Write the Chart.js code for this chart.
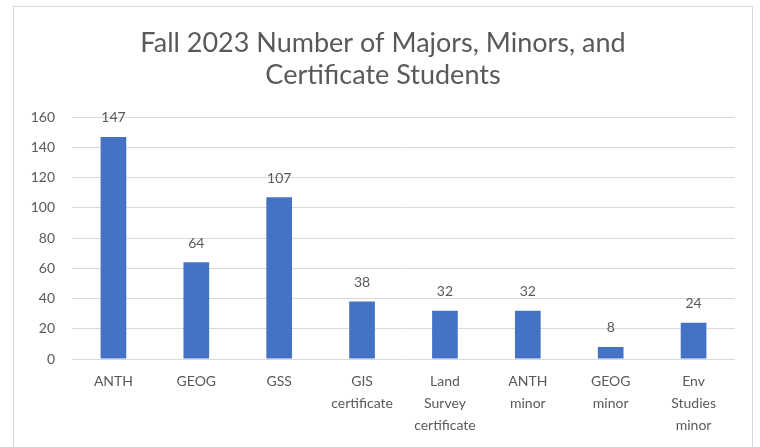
<!DOCTYPE html>
<html>
<head>
<meta charset="utf-8">
<script src="https://cdn.jsdelivr.net/npm/chart.js@4"></script>
<style>
  html, body { margin: 0; padding: 0; background: #ffffff; }
  #wrap { position: absolute; left: 0; top: 0; width: 760px; height: 447px; }
  #frame { position: absolute; left: 13px; top: 6px; width: 740px; height: 460px; border: 1px solid #d9d9d9; box-sizing: border-box; }
  canvas { position: absolute; left: 0; top: 0; }
</style>
</head>
<body>
<div id="wrap">
  <div id="frame"></div>
  <canvas id="c" width="760" height="447"></canvas>
</div>
<script>
const titleLines = ["Fall 2023 Number of Majors, Minors, and", "Certificate Students"];
const categories = [
  ["ANTH"], ["GEOG"], ["GSS"], ["GIS", "certificate"], ["Land", "Survey", "certificate"],
  ["ANTH", "minor"], ["GEOG", "minor"], ["Env", "Studies", "minor"]
];
const students = [147, 64, 107, 38, 32, 32, 8, 24];
const yMin = 0, yMax = 160, yStep = 20;

const textColor = '#595959';
const fontFamily = 'Lato, "Open Sans", sans-serif';

const dataLabels = {
  id: 'dataLabels',
  afterDatasetsDraw(chart) {
    const ctx = chart.ctx;
    const meta = chart.getDatasetMeta(0);
    ctx.save();
    ctx.font = '14px ' + fontFamily;
    ctx.fillStyle = textColor;
    ctx.textAlign = 'center';
    ctx.textBaseline = 'bottom';
    meta.data.forEach((bar, i) => {
      ctx.fillText(String(chart.data.datasets[0].data[i]), bar.x, bar.y - 12);
    });
    ctx.restore();
  }
};

new Chart(document.getElementById('c'), {
  type: 'bar',
  data: {
    labels: categories,
    datasets: [{
      data: students,
      backgroundColor: '#4472C4',
      borderWidth: 0,
      barPercentage: 0.62,
      categoryPercentage: 0.5
    }]
  },
  options: {
    responsive: false,
    animation: false,
    layout: { padding: { left: 31, right: 25, top: 0, bottom: 0 } },
    plugins: {
      legend: { display: false },
      tooltip: { enabled: false },
      title: {
        display: true,
        text: titleLines,
        color: textColor,
        font: { family: fontFamily, size: 27, weight: 'normal', lineHeight: 1.19 },
        padding: { top: 27, bottom: 26 }
      }
    },
    scales: {
      x: {
        grid: { display: false, drawTicks: false },
        border: { display: false },
        ticks: { color: textColor, font: { family: fontFamily, size: 14, lineHeight: 1.55 }, padding: 12, maxRotation: 0, autoSkip: false },
        afterFit(scale) { scale.height = 88; }
      },
      y: {
        min: yMin, max: yMax,
        grid: { color: '#d9d9d9', drawTicks: false },
        border: { display: false },
        ticks: { stepSize: yStep, color: textColor, font: { family: fontFamily, size: 14 }, padding: 17 },
        afterFit(scale) { scale.width = 41; }
      }
    }
  },
  plugins: [dataLabels]
});
</script>
</body>
</html>
